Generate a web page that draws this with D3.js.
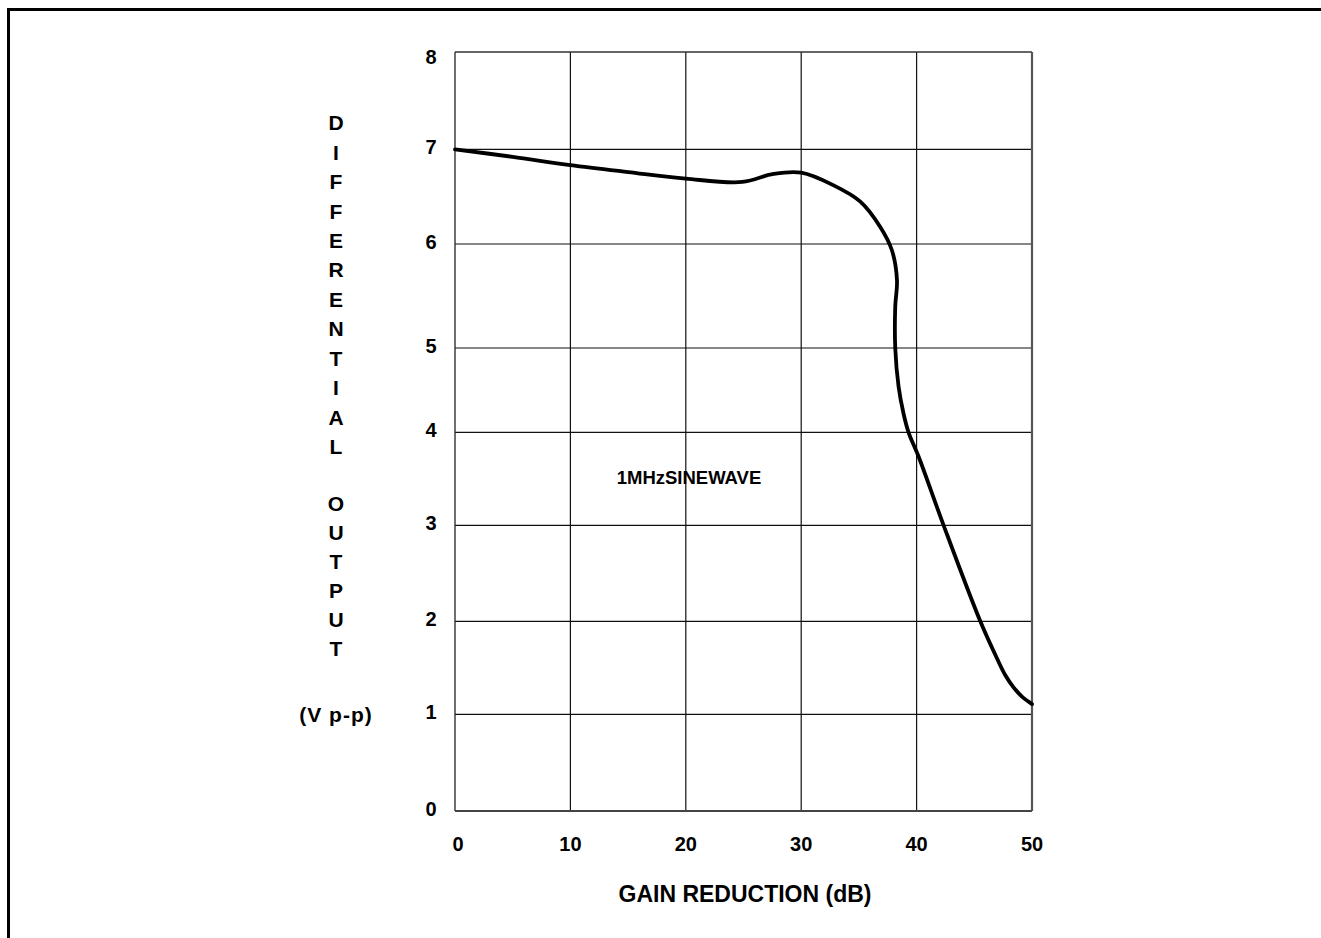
<!DOCTYPE html>
<html>
<head>
<meta charset="utf-8">
<script src="https://cdn.jsdelivr.net/npm/d3@7"></script>
<style>
  html, body { margin: 0; padding: 0; background: #fff; }
  svg { display: block; }
  text { font-family: "Liberation Sans", Arial, sans-serif; font-weight: bold; fill: #000; }
</style>
</head>
<body>
<svg id="chart" width="1321" height="938"></svg>
<script>
// ---- data ----
const xTicks = [0, 10, 20, 30, 40, 50];
const yTicks = [0, 1, 2, 3, 4, 5, 6, 7, 8];
// gain reduction (dB)
const gainReduction = [0, 5, 10, 15, 20, 24.9, 27.6, 30, 32.8, 35.1, 36.85, 37.86, 38.3, 38.15, 38.15, 38.44, 38.87, 39.3, 40.17, 42.34, 45.52, 46.97, 47.69, 48.4, 49.13, 50];
// differential output (V p-p)
const outputVpp = [7.0, 6.92, 6.834, 6.76, 6.69, 6.655, 6.74, 6.753, 6.62, 6.45, 6.18, 5.94, 5.65, 5.40, 5.0, 4.54, 4.22, 4.0, 3.74, 3.0, 2.0, 1.6, 1.42, 1.29, 1.19, 1.11];
const xTitle = "GAIN REDUCTION (dB)";
const yTitleWords = ["DIFFERENTIAL", "OUTPUT"];
const yUnit = "(V p-p)";
const annotation = "1MHzSINEWAVE";

// ---- layout ----
const svg = d3.select("#chart");
const x = d3.scaleLinear().domain([0, 50]).range([455, 1032]);
// gridlines of the original sheet are slightly irregular -> polylinear scale
const y = d3.scaleLinear().domain(yTicks).range([811, 714.3, 621.3, 525.3, 432.3, 348, 244, 149.3, 52]);

// outer border
svg.append("rect").attr("x", 8.5).attr("y", 9.5).attr("width", 1330).attr("height", 960)
  .attr("fill", "none").attr("stroke", "#000").attr("stroke-width", 3);

// gridlines
svg.append("g").selectAll("line").data(xTicks.slice(1, -1)).join("line")
  .attr("x1", d => x(d)).attr("x2", d => x(d))
  .attr("y1", y(0)).attr("y2", y(8))
  .attr("stroke", "#111").attr("stroke-width", 1.2);
svg.append("g").selectAll("line").data(yTicks.slice(1, -1)).join("line")
  .attr("x1", x(0)).attr("x2", x(50))
  .attr("y1", d => y(d)).attr("y2", d => y(d))
  .attr("stroke", "#111").attr("stroke-width", 1.2);

// frame
svg.append("line").attr("x1", x(0)).attr("x2", x(0)).attr("y1", y(0)).attr("y2", y(8)).attr("stroke", "#222").attr("stroke-width", 1.3);
svg.append("line").attr("x1", x(0)).attr("x2", x(50)).attr("y1", y(8)).attr("y2", y(8)).attr("stroke", "#333").attr("stroke-width", 1.3);
svg.append("line").attr("x1", x(0)).attr("x2", x(50)).attr("y1", y(0)).attr("y2", y(0)).attr("stroke", "#444").attr("stroke-width", 2);
svg.append("line").attr("x1", x(50)).attr("x2", x(50)).attr("y1", y(0)).attr("y2", y(8)).attr("stroke", "#555").attr("stroke-width", 2.2);

// curve
const pts = gainReduction.map((g, i) => [g, outputVpp[i]]);
svg.append("path").datum(pts)
  .attr("d", d3.line().x(d => x(d[0])).y(d => y(d[1])).curve(d3.curveCatmullRom.alpha(0.5)))
  .attr("fill", "none").attr("stroke", "#000").attr("stroke-width", 3.8)
  .attr("stroke-linejoin", "round").attr("stroke-linecap", "round");

// y tick labels
svg.append("g").selectAll("text").data(yTicks).join("text")
  .attr("x", 431).attr("y", d => Math.max(y(d) - 2, 57))
  .attr("text-anchor", "middle").attr("dominant-baseline", "central")
  .style("font-size", "20px").text(d => d);

// x tick labels
svg.append("g").selectAll("text").data(xTicks).join("text")
  .attr("x", d => x(d) + (d === 0 ? 3 : 0)).attr("y", 844)
  .attr("text-anchor", "middle").attr("dominant-baseline", "central")
  .style("font-size", "20px").text(d => d);

// x title
svg.append("text").attr("x", 745).attr("y", 894)
  .attr("text-anchor", "middle").attr("dominant-baseline", "central")
  .style("font-size", "23px").text(xTitle);

// y title, stacked letters
const letters = [];
let yy = 122.7;
yTitleWords[0].split("").forEach(c => { letters.push({c, y: yy}); yy += 29.45; });
yy = 503;
yTitleWords[1].split("").forEach(c => { letters.push({c, y: yy}); yy += 29; });
svg.append("g").selectAll("text").data(letters).join("text")
  .attr("x", 336).attr("y", d => d.y)
  .attr("text-anchor", "middle").attr("dominant-baseline", "central")
  .style("font-size", "21px").text(d => d.c);
svg.append("text").attr("x", 336).attr("y", 714)
  .attr("text-anchor", "middle").attr("dominant-baseline", "central")
  .style("font-size", "21px").style("letter-spacing", "1px").text(yUnit);

// annotation
svg.append("text").attr("x", 689).attr("y", 477)
  .attr("text-anchor", "middle").attr("dominant-baseline", "central")
  .style("font-size", "18.5px").text(annotation);
</script>
</body>
</html>
